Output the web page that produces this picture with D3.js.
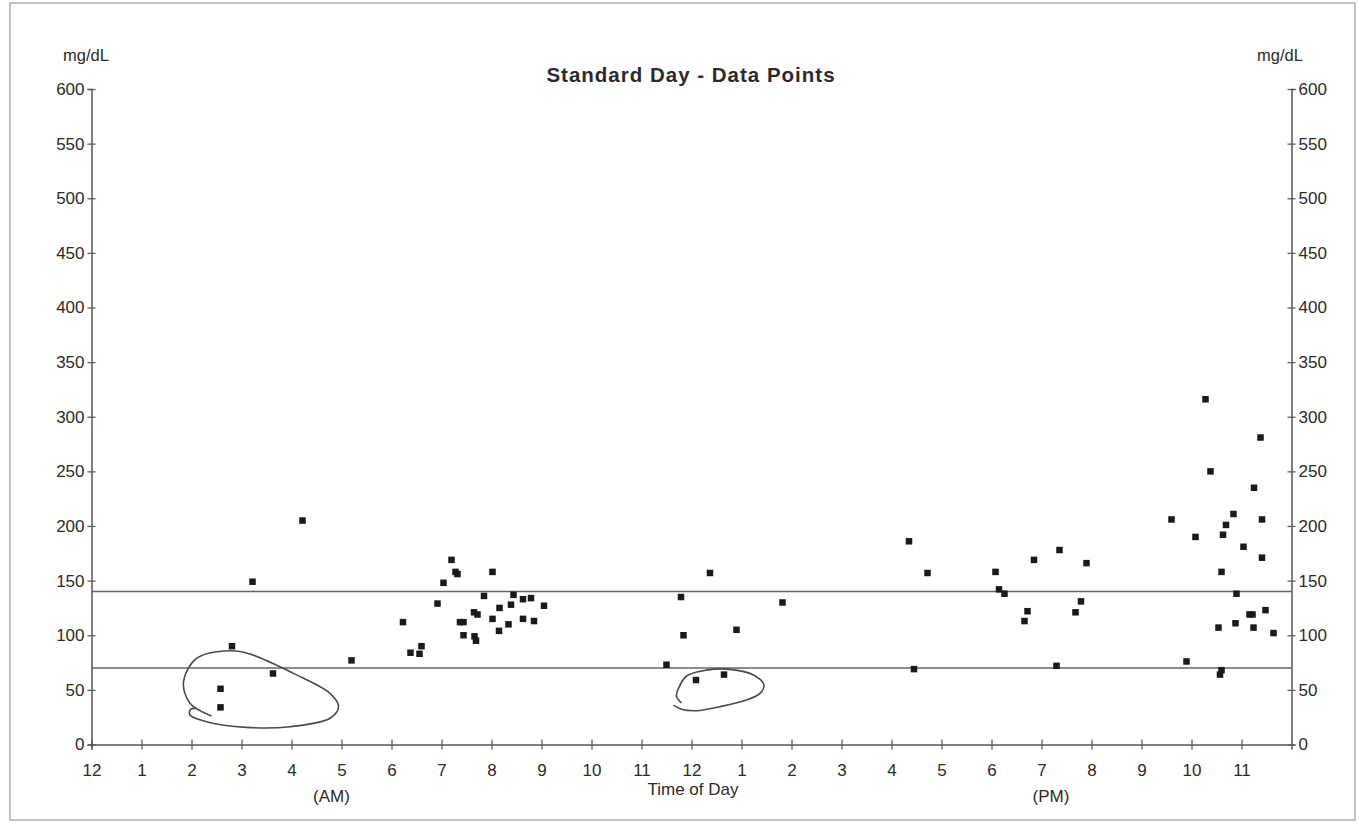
<!DOCTYPE html>
<html>
<head>
<meta charset="utf-8">
<script src="https://cdn.jsdelivr.net/npm/d3@7"></script>
<style>
  html, body { margin: 0; padding: 0; background: #fff; }
  svg text { font-family: "Liberation Sans", Arial, sans-serif; fill: #2b2b2b; }
</style>
</head>
<body>
<svg id="chart" width="1359" height="825"></svg>
<script>
// Readings: hour of day (0 = midnight) and glucose in mg/dL
const hours = [
  2.58, 2.58, 2.81, 3.22, 3.63, 4.22, 5.20,
  6.23, 6.38, 6.56, 6.60, 6.92, 7.04, 7.20, 7.28, 7.32, 7.37, 7.44, 7.44,
  7.65, 7.72, 7.66, 7.69, 7.85, 8.02, 8.02, 8.16, 8.15, 8.34, 8.39, 8.44,
  8.63, 8.63, 8.79, 8.85, 9.05,
  11.50, 11.79, 11.84, 12.09, 12.37, 12.65, 12.90, 13.82,
  16.35, 16.45, 16.72, 18.08, 18.15, 18.26, 18.66, 18.72, 18.85, 19.30,
  19.36, 19.68, 19.79, 19.90,
  21.60, 21.90, 22.08, 22.28, 22.38, 22.54, 22.57, 22.60, 22.60, 22.63,
  22.69, 22.84, 22.88, 22.90, 23.04, 23.16, 23.22, 23.24, 23.25, 23.38,
  23.41, 23.41, 23.48, 23.64
];
const glucose = [
  51, 34, 90, 149, 65, 205, 77,
  112, 84, 83, 90, 129, 148, 169, 158, 156, 112, 112, 100,
  121, 119, 99, 95, 136, 158, 115, 125, 104, 110, 128, 137,
  133, 115, 134, 113, 127,
  73, 135, 100, 59, 157, 64, 105, 130,
  186, 69, 157, 158, 142, 138, 113, 122, 169, 72,
  178, 121, 131, 166,
  206, 76, 190, 316, 250, 107, 64, 68, 158, 192,
  201, 211, 111, 138, 181, 119, 119, 107, 235, 281,
  206, 171, 123, 102
];

// Target band limits
const targetLines = [140, 70];

// Axis labelling
const xTickHours = d3.range(0, 24);
const xTickLabels = ["12","1","2","3","4","5","6","7","8","9","10","11",
                     "12","1","2","3","4","5","6","7","8","9","10","11"];
const yTicks = d3.range(0, 601, 50);

// Hand-drawn circles around the low readings (hour, mg/dL)
const loopEarlyHour = [2.40, 1.97, 1.84, 2.10, 2.77, 3.17, 4.04, 4.77, 4.94, 4.77, 3.97, 3.10, 2.30, 1.97, 1.98, 2.10];
const loopEarlyValue = [26, 37.7, 57.4, 78.8, 85.8, 82.8, 65.1, 46.8, 34.6, 24, 16.3, 15.7, 20.9, 27, 32.2, 33];
const loopNoonHour = [11.80, 11.70, 11.74, 11.90, 12.30, 12.77, 13.24, 13.45, 13.37, 13.10, 12.57, 12.10, 11.80, 11.64];
const loopNoonValue = [38, 44, 51.4, 62.7, 68.1, 68.8, 63.6, 54.4, 46.8, 40.7, 34.6, 30.9, 32.2, 36];

const svg = d3.select("#chart");
const W = 1359, H = 825;
const margin = { left: 91.5, right: W - 1291.5, top: 89, bottom: H - 744.5 };

const x = d3.scaleLinear().domain([0, 24]).range([margin.left, W - margin.right]);
const y = d3.scaleLinear().domain([0, 600]).range([H - margin.bottom, margin.top]);

// Page frame
svg.append("rect")
  .attr("x", 10).attr("y", 3).attr("width", 1345).attr("height", 817)
  .attr("fill", "none").attr("stroke", "#9a9a9a").attr("stroke-width", 1.2);

const axisColor = "#555";
const tickFont = 17;

// Left axis
const left = svg.append("g").attr("transform", `translate(${x(0)},0)`)
  .call(d3.axisLeft(y).tickValues(yTicks).tickSize(4).tickPadding(3));
// Right axis
const right = svg.append("g").attr("transform", `translate(${x(24)},0)`)
  .call(d3.axisRight(y).tickValues(yTicks).tickSize(4).tickPadding(3));
// Bottom axis
const bottom = svg.append("g").attr("transform", `translate(0,${y(0)})`)
  .call(d3.axisBottom(x).tickValues(xTickHours)
    .tickFormat((d, i) => xTickLabels[i]).tickSize(5).tickPadding(15));

[left, right, bottom].forEach(g => {
  g.select(".domain").attr("stroke", axisColor).attr("stroke-width", 1.5);
  g.selectAll(".tick line").attr("stroke", axisColor).attr("stroke-width", 1.2);
  g.selectAll(".tick text").attr("font-size", tickFont).attr("fill", "#2b2b2b")
    .style("font-family", '"Liberation Sans", Arial, sans-serif');
});
// Ticks cross the axis lines
left.selectAll(".tick line").attr("x1", 4);
right.selectAll(".tick line").attr("x1", -4);
bottom.selectAll(".tick line").attr("y1", -5).attr("y2", 5);
bottom.selectAll(".tick text").attr("dy", "0.7em");

// Target lines
svg.append("g").selectAll("line").data(targetLines).join("line")
  .attr("x1", x(0)).attr("x2", x(24))
  .attr("y1", d => y(d)).attr("y2", d => y(d))
  .attr("stroke", "#666").attr("stroke-width", 1.6);

// Hand-drawn loops
const loopLine = d3.line().x(d => x(d[0])).y(d => y(d[1])).curve(d3.curveCatmullRom.alpha(0.5));
[[loopEarlyHour, loopEarlyValue], [loopNoonHour, loopNoonValue]].forEach(([hs, vs]) => {
  svg.append("path")
    .datum(hs.map((h, i) => [h, vs[i]]))
    .attr("d", loopLine)
    .attr("fill", "none").attr("stroke", "#4a4a4a").attr("stroke-width", 1.6);
});

// Data points
const S = 6.5;
svg.append("g").selectAll("rect").data(hours).join("rect")
  .attr("x", d => x(d) - S / 2)
  .attr("y", (d, i) => y(glucose[i]) - S / 2)
  .attr("width", S).attr("height", S)
  .attr("fill", "#1a1a1a");

// Titles and labels
svg.append("text").attr("x", 691).attr("y", 82).attr("text-anchor", "middle")
  .attr("font-size", 20.5).attr("font-weight", "bold").attr("letter-spacing", 1.0)
  .attr("fill", "#333")
  .text("Standard Day - Data Points");
svg.append("text").attr("x", 86).attr("y", 61).attr("text-anchor", "middle")
  .attr("font-size", 16.5).text("mg/dL");
svg.append("text").attr("x", 1280).attr("y", 61).attr("text-anchor", "middle")
  .attr("font-size", 16.5).text("mg/dL");
svg.append("text").attr("x", x(4.8)).attr("y", 802).attr("text-anchor", "middle")
  .attr("font-size", tickFont).text("(AM)");
svg.append("text").attr("x", x(12.03)).attr("y", 795).attr("text-anchor", "middle")
  .attr("font-size", tickFont).text("Time of Day");
svg.append("text").attr("x", x(19.19)).attr("y", 802).attr("text-anchor", "middle")
  .attr("font-size", tickFont).text("(PM)");
</script>
</body>
</html>
